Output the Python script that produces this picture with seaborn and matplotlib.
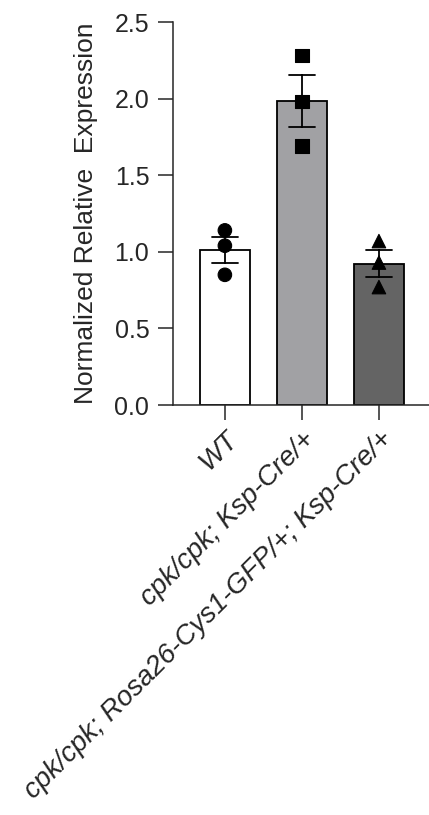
import pandas as pd
import seaborn as sns
import matplotlib.pyplot as plt

# group names and the three replicate values per group
groups = ["WT", "cpk/cpk; Ksp-Cre/+", "cpk/cpk; Rosa26-Cys1-GFP/+; Ksp-Cre/+"]
wt_vals = [1.14, 1.04, 0.85]
cpk_vals = [2.28, 1.98, 1.69]
rescue_vals = [1.07, 0.93, 0.77]

bar_colors = ["#ffffff", "#a0a0a5", "#646464"]
marker_map = {groups[0]: "o", groups[1]: "s", groups[2]: "^"}

df = pd.DataFrame({
    "group": [groups[0]] * 3 + [groups[1]] * 3 + [groups[2]] * 3,
    "value": wt_vals + cpk_vals + rescue_vals,
})

sns.set_style("ticks")
plt.rcParams["font.family"] = ["Liberation Sans", "DejaVu Sans"]

fig = plt.figure(figsize=(4.29, 8.15), dpi=100)
ax = fig.add_axes([0.403, 0.503, 0.597, 0.470])

sns.barplot(data=df, x="group", y="value", hue="group", palette=bar_colors,
            order=groups, errorbar="se", capsize=0.33, width=0.65,
            edgecolor="black", linewidth=1.3, err_kws={"color": "black", "linewidth": 1.3},
            legend=False, ax=ax)

sns.scatterplot(data=df, x="group", y="value", style="group", markers=marker_map,
                color="black", s=95, edgecolor="black", legend=False, ax=ax, zorder=5)

ax.set_ylim(0, 2.5)
ax.set_xlim(-0.675, 2.65)
ax.set_yticks([0, 0.5, 1.0, 1.5, 2.0, 2.5])
ax.set_yticklabels(["0.0", "0.5", "1.0", "1.5", "2.0", "2.5"])
ax.set_xlabel("")
ax.set_ylabel("Normalized Relative  Expression", fontsize=19, labelpad=12)
ax.set_xticks(range(3))
ax.set_xticklabels(groups, rotation=45, ha="right", rotation_mode="anchor",
                   fontsize=20, style="italic")
ax.tick_params(axis="y", labelsize=18, length=11, width=1.1, pad=6)
ax.tick_params(axis="x", length=11, width=1.1, pad=4)
for sp in ["left", "bottom"]:
    ax.spines[sp].set_linewidth(1.1)
sns.despine(ax=ax)

fig.savefig("out.png", dpi=100)
